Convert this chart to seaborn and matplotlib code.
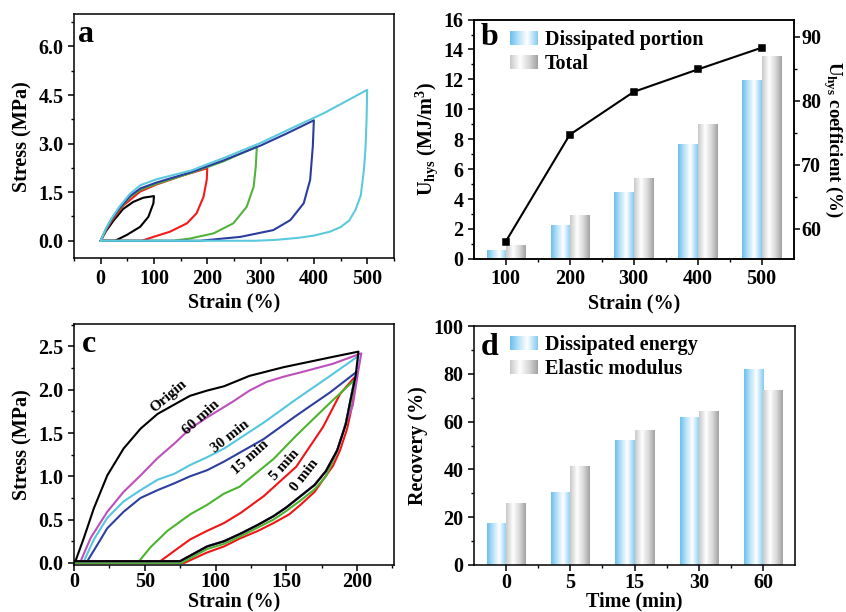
import numpy as np
import pandas as pd
import matplotlib
matplotlib.use("Agg")
import matplotlib.pyplot as plt
import seaborn as sns
from matplotlib.colors import LinearSegmentedColormap
from matplotlib.patches import Patch
from matplotlib.ticker import MultipleLocator, FormatStrFormatter

# ---- panel a: loading / unloading loops at growing strain ----
a_black_x = [0, 10, 24, 42, 61, 80, 100, 99, 89.5, 74, 49, 27, 0]
a_black_y = [0, 0.30, 0.62, 0.98, 1.20, 1.33, 1.38, 1.16, 0.74, 0.43, 0.18, 0.0, 0.0]
a_red_x = [0, 10, 20, 42, 74, 105, 155, 200, 199, 193, 180, 162, 130, 99, 77, 0]
a_red_y = [0, 0.33, 0.60, 1.08, 1.52, 1.74, 2.02, 2.24, 1.88, 1.36, 0.85, 0.54, 0.28, 0.12, 0.0, 0.0]
a_green_x = [0, 10, 20, 35, 55, 75, 105, 170, 230, 293, 291, 287, 274, 249, 212, 168, 136, 0]
a_green_y = [0, 0.35, 0.64, 0.98, 1.35, 1.58, 1.76, 2.10, 2.45, 2.91, 2.29, 1.67, 1.05, 0.54, 0.23, 0.07, 0.0, 0.0]
a_blue_x = [0, 10, 20, 35, 55, 75, 105, 170, 230, 300, 350, 400, 398, 393, 381, 356, 324, 262, 199, 187, 0]
a_blue_y = [0, 0.36, 0.65, 1.00, 1.38, 1.62, 1.80, 2.12, 2.48, 2.94, 3.32, 3.72, 2.91, 1.88, 1.16, 0.64, 0.33, 0.12, 0.02, 0.0, 0.0]
a_cyan_x = [0, 10, 20, 35, 55, 75, 105, 170, 230, 300, 355, 420, 500, 499, 497, 494, 488, 478, 466, 450, 430, 400, 370, 330, 290, 0]
a_cyan_y = [0, 0.38, 0.68, 1.05, 1.45, 1.72, 1.90, 2.17, 2.55, 3.02, 3.45, 3.95, 4.66, 3.80, 2.90, 2.20, 1.40, 0.95, 0.62, 0.42, 0.28, 0.16, 0.09, 0.03, 0.0, 0.0]

# ---- panel b: hysteresis energy ----
b_strain = ["100", "200", "300", "400", "500"]
b_dissipated = [0.58, 2.23, 4.43, 7.66, 11.96]
b_total = [0.91, 2.92, 5.41, 9.02, 13.54]
b_coefficient = [58.0, 74.7, 81.4, 84.9, 88.3]

# ---- panel c: recovery loops after resting ----
c_origin_x = [1, 7, 14, 23.5, 35, 47, 59, 71, 82, 94, 106, 124, 148, 183, 201, 199]
c_origin_y = [0.02, 0.29, 0.63, 1.01, 1.32, 1.55, 1.72, 1.83, 1.93, 1.99, 2.04, 2.16, 2.26, 2.38, 2.44, 2.16]
c_60_x = [4.7, 11.8, 23.5, 35, 47, 59, 71, 82, 94, 106, 112, 124, 136, 148, 160, 183, 203, 200.7, 197]
c_60_y = [0.02, 0.29, 0.59, 0.82, 1.01, 1.21, 1.38, 1.55, 1.68, 1.80, 1.86, 1.99, 2.09, 2.15, 2.20, 2.30, 2.42, 2.20, 1.82]
c_30_x = [7, 14, 23.5, 35, 47, 59, 71, 82, 94, 106, 134, 157, 181, 201, 199]
c_30_y = [0.02, 0.27, 0.52, 0.71, 0.84, 0.96, 1.03, 1.13, 1.22, 1.32, 1.62, 1.89, 2.16, 2.39, 2.10]
c_15_x = [9.4, 16.5, 23.5, 35, 47, 59, 71, 82, 94, 106, 134, 157, 181, 200]
c_15_y = [0.02, 0.21, 0.40, 0.59, 0.75, 0.84, 0.92, 1.00, 1.07, 1.17, 1.43, 1.70, 1.97, 2.21]
c_5_x = [46, 54, 66, 82, 94, 106, 117, 141, 157, 169, 181, 200]
c_5_y = [0.02, 0.18, 0.37, 0.56, 0.67, 0.80, 0.88, 1.20, 1.47, 1.66, 1.85, 2.14]
c_0_x = [61, 71, 82, 94, 106, 118, 134, 157, 176, 188, 198]
c_0_y = [0.02, 0.14, 0.27, 0.37, 0.46, 0.58, 0.77, 1.11, 1.57, 1.95, 2.14]
# shared unloading branches
c_unload_x = [198, 195, 192, 186, 178, 170, 160, 150, 141, 130, 118, 106, 94, 75, 0]
c_unload_y = [2.10, 1.85, 1.60, 1.30, 1.06, 0.90, 0.77, 0.64, 0.54, 0.44, 0.34, 0.25, 0.19, 0.02, 0.02]
c_unload5_x = [198, 195, 190, 185, 178, 170, 160, 150, 141, 130, 118, 106, 94, 76, 0]
c_unload5_y = [2.05, 1.80, 1.50, 1.25, 1.00, 0.85, 0.72, 0.60, 0.50, 0.41, 0.31, 0.22, 0.16, 0.0, 0.0]
c_unload0_x = [197, 193, 188, 183, 176, 170, 160, 152, 141, 130, 117, 106, 94, 78, 0]
c_unload0_y = [1.85, 1.55, 1.30, 1.12, 0.96, 0.82, 0.67, 0.56, 0.46, 0.37, 0.28, 0.19, 0.12, 0.0, 0.0]
c_labels = ["Origin", "60 min", "30 min", "15 min", "5 min", "0 min"]

# ---- panel d: recovery ----
d_time = ["0", "5", "15", "30", "60"]
d_energy = [17.5, 30.2, 51.9, 61.7, 81.8]
d_modulus = [25.9, 41.4, 56.4, 64.1, 73.0]

sns.set_style("ticks")
plt.rcParams.update({
    "font.family": ["Liberation Serif", "DejaVu Serif"],
    "font.weight": "bold",
    "axes.labelweight": "bold",
    "font.size": 14.5,
    "axes.labelsize": 14.5,
    "xtick.labelsize": 14.5,
    "ytick.labelsize": 14.5,
    "axes.linewidth": 1.1,
    "axes.edgecolor": "black",
    "xtick.color": "black",
    "ytick.color": "black",
    "axes.labelcolor": "black",
    "text.color": "black",
    "xtick.major.width": 1.1,
    "ytick.major.width": 1.1,
    "xtick.minor.width": 1.0,
    "ytick.minor.width": 1.0,
    "xtick.major.size": 4,
    "ytick.major.size": 4,
    "xtick.minor.size": 2.5,
    "ytick.minor.size": 2.5,
    "mathtext.fontset": "custom",
    "mathtext.rm": "Liberation Serif:bold",
    "mathtext.it": "Liberation Serif:italic:bold",
    "mathtext.bf": "Liberation Serif:bold",
})

BLUE_CMAP = LinearSegmentedColormap.from_list(
    "bluebar", [(0, "#6cbfee"), (0.3, "#b7e2f8"), (0.62, "#ffffff"), (1, "#84cbf2")])
GRAY_CMAP = LinearSegmentedColormap.from_list(
    "graybar", [(0, "#c9c9c9"), (0.35, "#ffffff"), (0.7, "#d6d6d6"), (1, "#a2a2a2")])
GRAD = np.linspace(0, 1, 64).reshape(1, -1)


def shade_bars(ax):
    # swap flat fills for the cylinder-like horizontal gradient
    for p in list(ax.patches):
        fc = p.get_facecolor()
        cmap = BLUE_CMAP if fc[2] - fc[0] > 0.1 else GRAY_CMAP
        x0, y0, w, h = p.get_x(), p.get_y(), p.get_width(), p.get_height()
        ax.imshow(GRAD, cmap=cmap, extent=(x0, x0 + w, y0, y0 + h),
                  aspect="auto", interpolation="bilinear", zorder=2)
        p.set_facecolor("none")
        p.set_edgecolor("none")


def panel_letter(ax, s, x, y):
    ax.text(x, y, s, transform=ax.transAxes, fontsize=23, fontweight="bold",
            ha="left", va="top")


fig = plt.figure(figsize=(8.46, 6.12), dpi=100)
ax_a = fig.add_axes([0.0875, 0.578, 0.378, 0.399])
ax_b = fig.add_axes([0.560, 0.577, 0.378, 0.391])
ax_c = fig.add_axes([0.0875, 0.076, 0.378, 0.3947])
ax_d = fig.add_axes([0.560, 0.0768, 0.380, 0.3905])

# ---------------- a ----------------
a_curves = [(a_black_x, a_black_y, "black"), (a_red_x, a_red_y, "#f51a1a"),
            (a_green_x, a_green_y, "#52b33c"), (a_blue_x, a_blue_y, "#2b3c9e"),
            (a_cyan_x, a_cyan_y, "#5cc9de")]
for xs, ys, col in a_curves:
    sns.lineplot(x=xs, y=ys, sort=False, estimator=None, color=col, lw=1.5, ax=ax_a)
ax_a.set_xlim(-50, 550)
ax_a.set_ylim(-0.54, 7.0)
ax_a.set_xticks(range(0, 501, 100))
ax_a.xaxis.set_minor_locator(MultipleLocator(50))
ax_a.set_yticks([0, 1.5, 3.0, 4.5, 6.0])
ax_a.yaxis.set_major_formatter(FormatStrFormatter("%.1f"))
ax_a.yaxis.set_minor_locator(MultipleLocator(0.75))
ax_a.set_xlabel("Strain (%)", labelpad=3)
ax_a.set_ylabel("Stress (MPa)", labelpad=4)
panel_letter(ax_a, "a", 0.012, 0.975)

# ---------------- b ----------------
df_b = pd.DataFrame({
    "strain": b_strain * 2,
    "value": b_dissipated + b_total,
    "kind": ["Dissipated portion"] * 5 + ["Total"] * 5,
})
sns.barplot(data=df_b, x="strain", y="value", hue="kind", width=0.6, gap=0,
            palette=["#7fc8f0", "#bbbbbb"], legend=False, ax=ax_b)
shade_bars(ax_b)
ax_b.set_xlim(-0.5, 4.5)
ax_b.set_ylim(0, 16)
ax_b.set_yticks(range(0, 17, 2))
ax_b.yaxis.set_minor_locator(MultipleLocator(1))
ax_b.set_xticks([0.5, 1.5, 2.5, 3.5], minor=True)
ax_b.set_xlabel("Strain (%)", labelpad=3)
ax_b.set_ylabel(r"U$_{\mathregular{hys}}$ (MJ/m$^{\mathregular{3}}$)", labelpad=2)
panel_letter(ax_b, "b", 0.022, 0.985)
leg_b = ax_b.legend(handles=[Patch(facecolor="#7fc8f0"), Patch(facecolor="#cccccc")],
                    labels=["Dissipated portion", "Total"], loc="upper left",
                    bbox_to_anchor=(0.112, 0.958), frameon=False, borderpad=0,
                    borderaxespad=0, handlelength=1.35, handleheight=0.7,
                    handletextpad=0.4, labelspacing=0.2, fontsize=14.5)

ax_b2 = ax_b.twinx()
sns.pointplot(x=b_strain, y=b_coefficient, color="black", markers="s",
              markersize=4.5, linewidth=1.5, errorbar=None, ax=ax_b2)
ax_b2.set_xlim(-0.5, 4.5)
ax_b2.set_ylim(55.3, 92.7)
ax_b2.set_yticks([60, 70, 80, 90])
ax_b2.yaxis.set_minor_locator(MultipleLocator(5))
ax_b2.tick_params(axis="y", which="major", length=4, width=1.1, pad=1.5)
ax_b2.tick_params(axis="y", which="minor", length=2.5, width=1.0)
ax_b2.set_ylabel(r"U$_{\mathregular{hys}}$ coefficient (%)", rotation=270,
                 labelpad=17, fontsize=13.5)

# ---------------- c ----------------
c_curves = [
    (c_0_x + c_unload0_x, c_0_y + c_unload0_y, "#f01515"),
    (c_5_x + c_unload5_x, c_5_y + c_unload5_y, "#4db42e"),
    (c_15_x + c_unload_x, c_15_y + c_unload_y, "#2d3f9f"),
    (c_30_x + c_unload_x, c_30_y + c_unload_y, "#55c6e0"),
    (c_60_x + c_unload_x[2:], c_60_y + c_unload_y[2:], "#bd4fbd"),
    (c_origin_x + c_unload_x[1:], c_origin_y + c_unload_y[1:], "black"),
]
for xs, ys, col in c_curves:
    sns.lineplot(x=xs, y=ys, sort=False, estimator=None, color=col, lw=1.5, ax=ax_c)
c_label_pos = [(66.6, 1.92, 40), (90.1, 1.68, 42), (110.7, 1.46, 38),
               (124.5, 1.22, 42), (149.0, 1.13, 48), (163.1, 1.01, 52)]
for txt, (lx, ly, rot) in zip(c_labels, c_label_pos):
    ax_c.text(lx, ly, txt, rotation=rot, ha="center", va="center",
              fontsize=11, fontweight="bold", rotation_mode="anchor")
ax_c.set_xlim(0, 226)
ax_c.set_ylim(-0.03, 2.76)
ax_c.set_xticks(range(0, 201, 50))
ax_c.xaxis.set_minor_locator(MultipleLocator(25))
ax_c.set_yticks([0, 0.5, 1.0, 1.5, 2.0, 2.5])
ax_c.yaxis.set_major_formatter(FormatStrFormatter("%.1f"))
ax_c.yaxis.set_minor_locator(MultipleLocator(0.25))
ax_c.tick_params(axis="x", pad=1)
ax_c.set_xlabel("Strain (%)", labelpad=-0.5)
ax_c.set_ylabel("Stress (MPa)", labelpad=4)
panel_letter(ax_c, "c", 0.024, 0.975)

# ---------------- d ----------------
df_d = pd.DataFrame({
    "time": d_time * 2,
    "value": d_energy + d_modulus,
    "kind": ["Dissipated energy"] * 5 + ["Elastic modulus"] * 5,
})
sns.barplot(data=df_d, x="time", y="value", hue="kind", width=0.6, gap=0,
            palette=["#7fc8f0", "#bbbbbb"], legend=False, ax=ax_d)
shade_bars(ax_d)
ax_d.set_xlim(-0.5, 4.5)
ax_d.set_ylim(0, 100)
ax_d.set_yticks(range(0, 101, 20))
ax_d.yaxis.set_minor_locator(MultipleLocator(10))
ax_d.set_xticks([0.5, 1.5, 2.5, 3.5], minor=True)
ax_d.tick_params(axis="x", pad=2)
ax_d.set_xlabel("Time (min)", labelpad=-1)
ax_d.set_ylabel("Recovery (%)", labelpad=4)
panel_letter(ax_d, "d", 0.022, 0.97)
leg_d = ax_d.legend(handles=[Patch(facecolor="#7fc8f0"), Patch(facecolor="#cccccc")],
                    labels=["Dissipated energy", "Elastic modulus"], loc="upper left",
                    bbox_to_anchor=(0.112, 0.962), frameon=False, borderpad=0,
                    borderaxespad=0, handlelength=1.35, handleheight=0.7,
                    handletextpad=0.4, labelspacing=0.2, fontsize=14.5)

# gradient legend keys, placed over the drawn handles
fig.canvas.draw()
renderer = fig.canvas.get_renderer()
inv = fig.transFigure.inverted()
for leg in (leg_b, leg_d):
    for patch, cmap in zip(leg.get_patches(), (BLUE_CMAP, GRAY_CMAP)):
        bb = patch.get_window_extent(renderer)
        (x0, y0), (x1, y1) = inv.transform([[bb.x0, bb.y0], [bb.x1, bb.y1]])
        kax = fig.add_axes([x0, y0, x1 - x0, y1 - y0])
        kax.imshow(GRAD, cmap=cmap, aspect="auto", interpolation="bilinear")
        kax.axis("off")
        patch.set_visible(False)

fig.savefig("out.png", dpi=100)
